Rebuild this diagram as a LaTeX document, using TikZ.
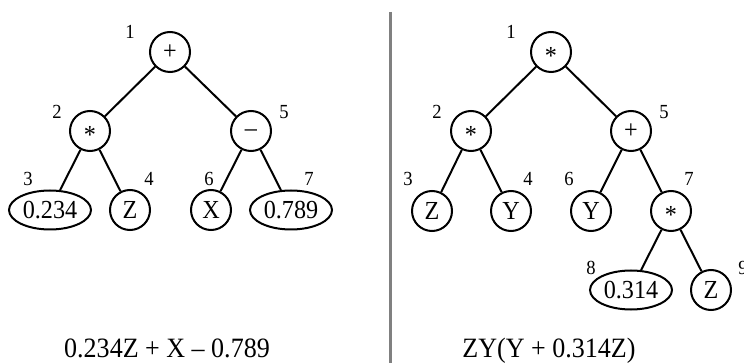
\documentclass[tikz,border=0pt]{standalone}
\usepackage{fontspec}
\setmainfont[FakeStretch=0.93]{Liberation Serif}
\usetikzlibrary{shapes.geometric}
\newcommand\opc[2]{\smash{\raisebox{#2}{#1}}}
\begin{document}
\begin{tikzpicture}[x=1pt,y=-1pt,
  every node/.style={font=\fontsize{26}{28}\selectfont},
  opnode/.style={circle, draw, line width=2pt, minimum size=40pt, inner sep=0pt},
  valnode/.style={ellipse, draw, line width=2pt, minimum width=82pt, minimum height=39pt, inner sep=0pt},
  num/.style={font=\fontsize{20}{22}\selectfont, inner sep=0pt},
  expr/.style={font=\fontsize{28}{30}\selectfont, anchor=base},
  link/.style={line width=2pt},
  sep/.style={draw=black!50, line width=3pt}]
\useasboundingbox (0,0) rectangle (744,363);
% separator
\coordinate (s1) at (390,12);
\coordinate (s2) at (390,363);
\draw[sep] (s1) -- (s2);
% left tree
\node[opnode] (a1) at (170,52) {+};
\node[opnode] (a2) at (90,131) {\opc{*}{-0.466em}};
\node[opnode] (a5) at (251,131) {\opc{–}{-0.225em}};
\node[valnode] (a3) at (50,210) {0.234};
\node[opnode] (a4) at (130,210) {Z};
\node[opnode] (a6) at (211,210) {X};
\node[valnode] (a7) at (291,210) {0.789};
\draw[link] (a1) -- (a2);
\draw[link] (a1) -- (a5);
\draw[link] (a2) -- (a3);
\draw[link] (a2) -- (a4);
\draw[link] (a5) -- (a6);
\draw[link] (a5) -- (a7);
\node[num] (la1) at (130,32) {1};
\node[num] (la2) at (57,112) {2};
\node[num] (la5) at (284,112) {5};
\node[num] (la3) at (28,179) {3};
\node[num] (la4) at (149,179) {4};
\node[num] (la6) at (209,179) {6};
\node[num] (la7) at (309,179) {7};
% right tree
\node[opnode] (b1) at (551,52) {\opc{*}{-0.466em}};
\node[opnode] (b2) at (471,131) {\opc{*}{-0.466em}};
\node[opnode] (b5) at (631,131) {+};
\node[opnode] (b3) at (432,211) {Z};
\node[opnode] (b4) at (511,211) {Y};
\node[opnode] (b6) at (591,211) {Y};
\node[opnode] (b7) at (671,211) {\opc{*}{-0.466em}};
\node[valnode] (b8) at (631,290) {0.314};
\node[opnode] (b9) at (711,290) {Z};
\draw[link] (b1) -- (b2);
\draw[link] (b1) -- (b5);
\draw[link] (b2) -- (b3);
\draw[link] (b2) -- (b4);
\draw[link] (b5) -- (b6);
\draw[link] (b5) -- (b7);
\draw[link] (b7) -- (b8);
\draw[link] (b7) -- (b9);
\node[num] (lb1) at (511,32) {1};
\node[num] (lb2) at (437,112) {2};
\node[num] (lb5) at (664,112) {5};
\node[num] (lb3) at (408,179) {3};
\node[num] (lb4) at (528,179) {4};
\node[num] (lb6) at (569,179) {6};
\node[num] (lb7) at (689,179) {7};
\node[num] (lb8) at (591,268) {8};
\node[num] (lb9) at (743,268) {9};
% expressions
\node[expr] (t1) at (167,357) {0.234Z + X – 0.789};
\node[expr] (t2) at (549,357) {ZY(Y + 0.314Z)};
\end{tikzpicture}
\end{document}
